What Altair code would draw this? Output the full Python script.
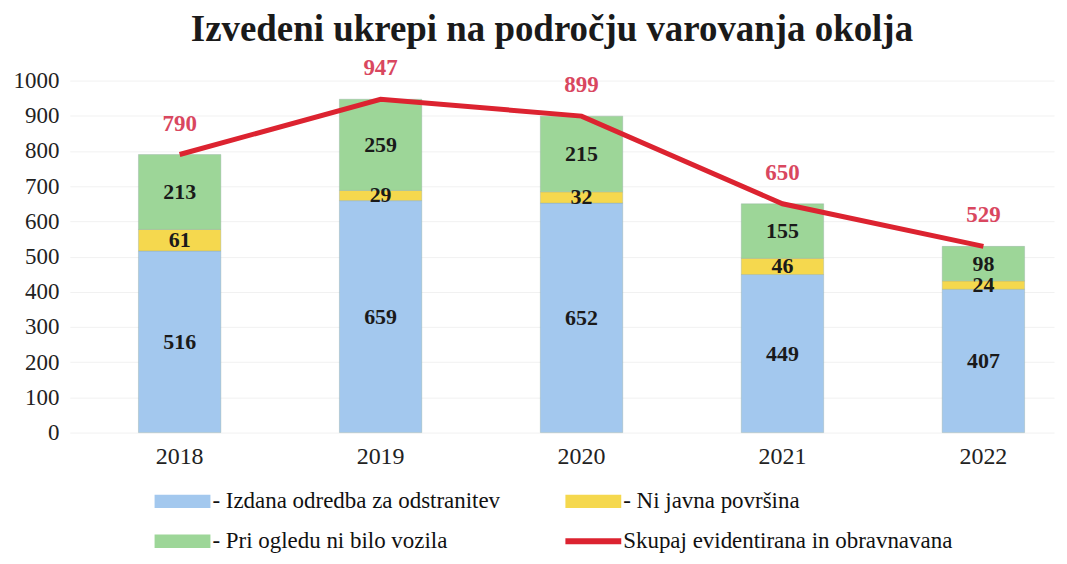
import altair as alt
import pandas as pd

years = ["2018", "2019", "2020", "2021", "2022"]
izdana = [516, 659, 652, 449, 407]
ni_javna = [61, 29, 32, 46, 24]
pri_ogledu = [213, 259, 215, 155, 98]
skupaj = [790, 947, 899, 650, 529]

s_blue = "- Izdana odredba za odstranitev"
s_yellow = "- Ni javna površina"
s_green = "- Pri ogledu ni bilo vozila"
s_red = "Skupaj evidentirana in obravnavana"
series_order = [s_blue, s_yellow, s_green, s_red]
colors = ["#a3c8ee", "#f5d84e", "#9dd698", "#dc2330"]
shapes = [
    "M-1,-0.24H1V0.24H-1Z",
    "M-1,-0.24H1V0.24H-1Z",
    "M-1,-0.24H1V0.24H-1Z",
    "M-1,-0.11H1V0.11H-1Z",
]

rows = []
for i, y in enumerate(years):
    rows.append({"year": y, "series": s_blue, "value": izdana[i], "order": 0})
    rows.append({"year": y, "series": s_yellow, "value": ni_javna[i], "order": 1})
    rows.append({"year": y, "series": s_green, "value": pri_ogledu[i], "order": 2})
bars_df = pd.DataFrame(rows)
tot_df = pd.DataFrame({"year": years, "total": skupaj, "series": [s_red] * 5})
leg_df = pd.DataFrame({"year": years[:4], "series": series_order, "value": [0, 0, 0, 0]})

FONT = "Liberation Serif"
LEG_FONT = "Liberation Serif, Times New Roman, serif"
tick_vals = list(range(0, 1001, 100))

xaxis = alt.Axis(labelFont=FONT, labelFontSize=24, labelColor="#222222",
                 labelPadding=12, domain=False, ticks=False, labelAngle=0)
xscale = alt.Scale(paddingInner=0.59, paddingOuter=0.244, align=0.70)
yaxis = alt.Axis(values=tick_vals, format="d", labelOverlap=False,
                 labelFont=FONT, labelFontSize=23, labelColor="#222222",
                 domain=False, ticks=False, labelPadding=11,
                 grid=True, gridColor="#f1f1f1", gridWidth=1)
yscale = alt.Scale(domain=[0, 1000], nice=False)
color_scale = alt.Scale(domain=series_order, range=colors)


def X():
    return alt.X("year:N", title=None, sort=years, scale=xscale, axis=xaxis)


leg = alt.Legend(title=None, orient="none", legendX=85, legendY=394,
                 direction="horizontal", columns=2, symbolSize=3136,
                 symbolOpacity=1, symbolStrokeWidth=0,
                 labelFont=LEG_FONT, labelFontSize=23, labelFontWeight="normal",
                 labelColor="#111111",
                 labelLimit=500, labelOffset=2, columnPadding=65,
                 rowPadding=-22, symbolOffset=0)

bars = alt.Chart(bars_df).mark_bar(stroke="#8fa7a0", strokeWidth=0.6, strokeOpacity=0.6).encode(
    x=X(),
    y=alt.Y("value:Q", stack="zero", scale=yscale, title=None, axis=yaxis),
    color=alt.Color("series:N", scale=color_scale, legend=leg),
    order=alt.Order("order:Q"),
)

seg_labels = alt.Chart(bars_df).transform_stack(
    stack="value", groupby=["year"], as_=["v0", "v1"], sort=[alt.SortField("order")]
).transform_calculate(mid="(datum.v0 + datum.v1) / 2").mark_text(
    font=FONT, fontSize=22, fontWeight="bold", color="#1a1a1a", baseline="middle"
).encode(
    x=X(),
    y=alt.Y("mid:Q", scale=yscale, title=None, axis=yaxis),
    text=alt.Text("value:Q"),
)

line = alt.Chart(tot_df).mark_line(strokeWidth=5).encode(
    x=X(),
    y=alt.Y("total:Q", scale=yscale, title=None, axis=yaxis),
    color=alt.Color("series:N", scale=color_scale, legend=leg),
)

tot_labels = alt.Chart(tot_df).mark_text(
    font=FONT, fontSize=23, fontWeight="bold", color="#d9475f", dy=-31, baseline="middle"
).encode(
    x=X(),
    y=alt.Y("total:Q", scale=yscale, title=None, axis=yaxis),
    text=alt.Text("total:Q"),
)

legend_layer = alt.Chart(leg_df).mark_point(filled=True, opacity=0).encode(
    x=X(),
    y=alt.Y("value:Q", scale=yscale, title=None, axis=yaxis),
    color=alt.Color("series:N", scale=color_scale, legend=leg),
    shape=alt.Shape("series:N", scale=alt.Scale(domain=series_order, range=shapes), legend=leg),
)

chart = alt.layer(bars, line, seg_labels, tot_labels, legend_layer).properties(
    width=987,
    height=353,
    title=alt.TitleParams("Izvedeni ukrepi na področju varovanja okolja", font=FONT,
                          fontSize=37, fontWeight="bold", color="#1a1a1a", anchor="middle",
                          dx=-10, offset=8),
    autosize=alt.AutoSizeParams(type="none"),
    padding={"left": 62, "top": 72, "right": 5, "bottom": 123},
).configure(
    background="white", font=FONT,
    style={"guide-label": {"font": FONT}},
).configure_view(
    strokeWidth=0, stroke="transparent"
).configure_legend(
    labelFont=LEG_FONT, labelFontSize=23, labelColor="#111111"
).configure_axis(labelFont=FONT)

chart.save("out.html", embed_options={"renderer": "svg", "actions": False})
